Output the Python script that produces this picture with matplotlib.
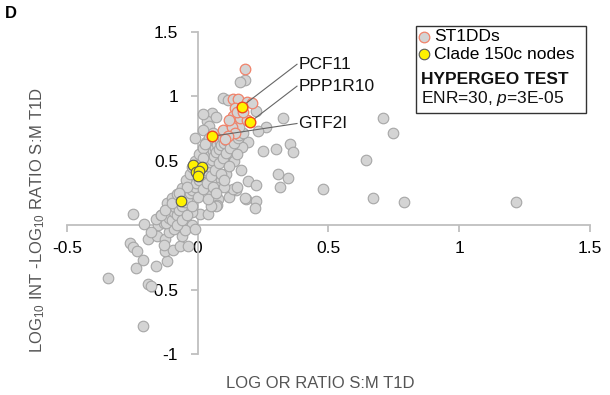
import matplotlib
matplotlib.use("Agg")
import matplotlib.pyplot as plt
from matplotlib.patches import Rectangle

plt.rcParams['font.family'] = ['Liberation Sans', 'DejaVu Sans']
plt.rcParams['axes.unicode_minus'] = False
plt.rcParams['mathtext.fontset'] = 'custom'
plt.rcParams['mathtext.rm'] = 'Liberation Sans'
plt.rcParams['mathtext.it'] = 'Liberation Sans:italic'

# all genes (grey)
gray_x = [0.181, 0.162, 0.095, 0.115, 0.225, 0.053, 0.034, 0.07, 0.045, 0.02, 0.06, 0.263, 0.232,
          0.327, 0.71, 0.748, 0.643, 0.48, 0.67, 0.79, 1.217,
          0.30, 0.25, 0.353, 0.365, 0.193, 0.168, 0.308, 0.315, 0.346, 0.193, 0.225, 0.164, 0.183,
          0.222, 0.219, 0.146, 0.079, 0.075, 0.12, 0.136, 0.15, 0.18, 0.13, 0.12, 0.10, 0.14, 0.11,
          0.09, 0.07, 0.05, 0.10,
          -0.249, -0.206, -0.257, -0.247, -0.234, -0.189, -0.157, -0.125, -0.208, -0.236, -0.161,
          -0.119, -0.125, -0.093, -0.068, -0.036, -0.342, -0.189, -0.18, -0.208, -0.119, -0.1,
          -0.15, -0.13, -0.04, -0.02, 0.01, 0.04, 0.072, 0.05, -0.11, -0.09, -0.06, -0.13, -0.18,
          -0.16, -0.085, -0.07, -0.14, -0.1, -0.06, -0.04, -0.02, -0.05, -0.01,
          -0.12, -0.11, -0.10, -0.09, -0.085, -0.08, -0.075, -0.07, -0.065, -0.06, -0.055, -0.05,
          -0.045, -0.04, -0.035, -0.03, -0.028, -0.02, -0.018, -0.012, -0.01, -0.005, 0.0, 0.005,
          0.008, 0.012, 0.015, 0.02, 0.025, 0.03, 0.032, 0.038, 0.04, 0.045, 0.05, 0.055, 0.058,
          0.062, 0.066, 0.07, 0.075, 0.08, 0.085, 0.09, 0.095, 0.1, 0.105, 0.11, 0.115, 0.12,
          0.125, 0.13,
          -0.14, -0.125, -0.10, -0.08, -0.06, -0.045, -0.03, -0.02, -0.01, 0.005, 0.02, 0.03,
          0.045, 0.02, -0.005, -0.04, -0.07, -0.01, 0.028, 0.02,
          -0.08, -0.06, -0.04, -0.02, 0.0, 0.02, 0.035, 0.05, 0.065, 0.08, 0.095, 0.11, 0.125,
          0.14, 0.155, 0.06, 0.09, 0.12, 0.1, 0.04, 0.07, 0.15, 0.16, 0.175, 0.145, 0.16]
gray_y = [1.13, 1.11, 0.99, 0.97, 0.89, 0.87, 0.81, 0.84, 0.77, 0.74, 0.72, 0.76, 0.73,
          0.83, 0.83, 0.72, 0.51, 0.28, 0.21, 0.18, 0.18,
          0.59, 0.58, 0.63, 0.57, 0.65, 0.61, 0.40, 0.30, 0.37, 0.34, 0.31, 0.43, 0.20,
          0.19, 0.13, 0.27, 0.20, 0.16, 0.22, 0.28, 0.30, 0.21, 0.55, 0.48, 0.52, 0.50, 0.40,
          0.35, 0.30, 0.26, 0.30,
          0.09, 0.01, -0.14, -0.17, -0.20, -0.11, -0.08, -0.11, -0.27, -0.33, -0.32,
          -0.28, -0.20, -0.19, -0.16, -0.16, -0.41, -0.46, -0.47, -0.78, 0.17, 0.21,
          0.0, 0.02, 0.02, 0.0, 0.085, 0.09, 0.15, 0.15, -0.05, -0.03, -0.08, -0.15, -0.05,
          0.05, 0.08, 0.05, 0.08, 0.1, 0.13, 0.12, 0.1, -0.04, -0.03,
          0.02, 0.06, 0.04, 0.10, 0.14, 0.08, 0.16, 0.12, 0.19, 0.15, 0.22, 0.18,
          0.24, 0.20, 0.28, 0.25, 0.31, 0.27, 0.33, 0.30, 0.36, 0.33, 0.39, 0.35,
          0.42, 0.38, 0.45, 0.41, 0.47, 0.43, 0.50, 0.46, 0.53, 0.49, 0.55, 0.51, 0.58,
          0.54, 0.60, 0.57, 0.63, 0.59, 0.65, 0.62, 0.68, 0.64, 0.70, 0.66, 0.72, 0.69,
          0.75, 0.71,
          0.08, 0.12, 0.17, 0.24, 0.29, 0.35, 0.40, 0.45, 0.50, 0.55, 0.60, 0.65,
          0.68, 0.52, 0.47, 0.30, 0.25, 0.68, 0.63, 0.86,
          0.0, 0.04, 0.08, 0.15, 0.22, 0.28, 0.33, 0.38, 0.43, 0.48, 0.52, 0.56, 0.60,
          0.64, 0.68, 0.30, 0.40, 0.46, 0.35, 0.20, 0.25, 0.55, 0.70, 0.72, 0.78, 0.76]

# ST1DDs
st1dd_x = [0.181, 0.134, 0.155, 0.187, 0.206, 0.142, 0.136, 0.162, 0.187, 0.098, 0.13, 0.142,
           0.117, 0.105, 0.15, 0.175, 0.12]
st1dd_y = [1.21, 0.98, 0.98, 0.96, 0.95, 0.91, 0.85, 0.83, 0.82, 0.74, 0.76, 0.72,
           0.69, 0.67, 0.88, 0.88, 0.82]

# clade 150c nodes
clade_x = [-0.017, 0.015, -0.007, 0.006, 0.002, -0.065]
clade_y = [0.47, 0.45, 0.41, 0.42, 0.38, 0.19]

# labelled clade genes that are also ST1DDs
named = ['PCF11', 'PPP1R10', 'GTF2I']
named_x = [0.168, 0.200, 0.053]
named_y = [0.92, 0.80, 0.69]
label_y = [1.25, 1.08, 0.79]

xticks = [-0.5, 0, 0.5, 1, 1.5]
yticks = [-1, -0.5, 0, 0.5, 1, 1.5]

fig = plt.figure(figsize=(6.1, 3.95), dpi=100)
ax = fig.add_axes([0.1098, 0.1038, 0.857, 0.815])

ax.scatter(gray_x, gray_y, s=58, facecolor='#d4d4d4', edgecolor='#a6a6a6', linewidth=0.8, zorder=3)
ax.scatter(st1dd_x, st1dd_y, s=58, facecolor='#d4d4d4', edgecolor='#f0826a', linewidth=0.9, zorder=4)
ax.scatter(clade_x, clade_y, s=58, facecolor='#fff200', edgecolor='#5a5a5a', linewidth=0.8, zorder=5)
ax.scatter(named_x, named_y, s=58, facecolor='#fff200', edgecolor='#f04a1e', linewidth=1.0, zorder=5)

for name, px, py, ly in zip(named, named_x, named_y, label_y):
    ax.plot([px, 0.38], [py, ly], color='#666666', lw=0.8, zorder=4)
    ax.text(0.385, ly, name, fontsize=12.5, va='center', ha='left', color='#111111')

ax.set_xlim(-0.5, 1.5)
ax.set_ylim(-1, 1.5)
ax.spines['left'].set_position(('data', 0))
ax.spines['bottom'].set_position(('data', 0))
ax.spines['right'].set_visible(False)
ax.spines['top'].set_visible(False)
for s in ['left', 'bottom']:
    ax.spines[s].set_color('#bfbfbf')
    ax.spines[s].set_linewidth(1.3)
ax.set_xticks(xticks)
ax.set_xticklabels([f'{t:g}' for t in xticks])
ax.set_yticks(yticks)
ax.set_yticklabels([f'{t:g}' for t in yticks])
ax.tick_params(axis='x', direction='out', length=5, width=1.3, color='#bfbfbf', labelsize=12.5, pad=6)
ax.tick_params(axis='y', direction='out', length=5, width=1.3, color='#bfbfbf', labelsize=12.5, pad=9)

fig.text(320 / 610, 1 - 383 / 395, 'LOG OR RATIO S:M T1D', fontsize=12, color='#555555',
         ha='center', va='center')
fig.text(38 / 610, 1 - 220 / 395, 'LOG$_{10}$ INT -LOG$_{10}$ RATIO S:M T1D', fontsize=12,
         color='#555555', rotation=90, ha='center', va='center')
fig.text(5 / 610, 1 - 13 / 395, 'D', fontsize=12, fontweight='bold', ha='left', va='center')

# legend box
ax.add_patch(Rectangle((416 / 610, 1 - 113 / 395), 170 / 610, 87 / 395, transform=fig.transFigure,
                       facecolor='white', edgecolor='#333333', lw=1.0, zorder=10, clip_on=False))
h1 = ax.scatter([], [], s=58, facecolor='#d4d4d4', edgecolor='#f0826a', linewidth=0.9)
h2 = ax.scatter([], [], s=58, facecolor='#fff200', edgecolor='#5a5a5a', linewidth=0.8)
leg = ax.legend(handles=[h1, h2], labels=['ST1DDs', 'Clade 150c nodes'], frameon=False, fontsize=12.5,
                loc='upper left', bbox_to_anchor=(419 / 610, 1 - 29 / 395), bbox_transform=fig.transFigure,
                handlelength=0.6, handletextpad=0.25, borderpad=0, labelspacing=0.15, borderaxespad=0)
leg.set_zorder(11)
ax.text(421 / 610, 1 - 80 / 395, 'HYPERGEO TEST', fontsize=12.5, fontweight='bold', transform=fig.transFigure,
        ha='left', va='center', color='#111111', zorder=12)
ax.text(421 / 610, 1 - 99 / 395, 'ENR=30, $\\mathit{p}$=3E-05', fontsize=12.5, transform=fig.transFigure,
        ha='left', va='center', color='#111111', zorder=12)

fig.savefig('out.png', dpi=100)
